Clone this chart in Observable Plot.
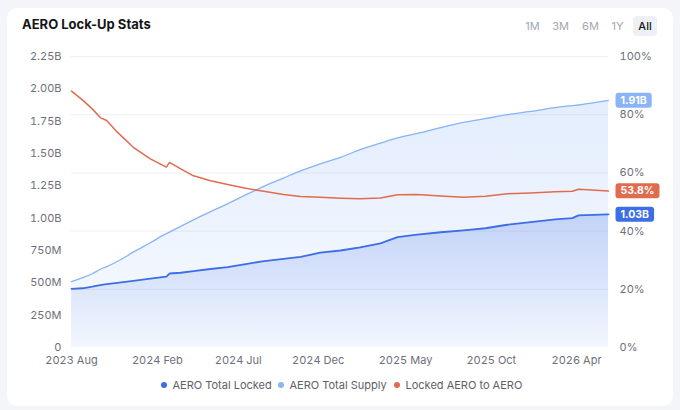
<!DOCTYPE html>
<html><head><meta charset="utf-8">
<script src="https://cdn.jsdelivr.net/npm/d3@7"></script>
<script src="https://cdn.jsdelivr.net/npm/@observablehq/plot@0.6"></script>
<style>
body{margin:0;background:#f3f5f9;font-family:Inter,"Noto Sans",sans-serif;}
#wrap{position:relative;width:680px;height:410px;overflow:hidden}
#card{position:absolute;left:7px;top:8px;width:666px;height:398px;background:#fff;border-radius:10px}
#title{position:absolute;left:22px;top:16px;font-size:13px;font-weight:700;color:#15161a;letter-spacing:0}
.btn{position:absolute;top:16px;height:20px;line-height:20px;font-size:11px;color:#a3a8b0;text-align:center;border-radius:4px}
.btn.on{background:#eef0f5;color:#15161a;font-weight:500}
#chart{position:absolute;left:0;top:0}
.leg{position:absolute;top:377px;font-size:11px;color:#5d6068;line-height:16px;white-space:nowrap}
.leg i{display:inline-block;width:6px;height:6px;border-radius:50%;margin-right:5.5px;vertical-align:1px}
</style></head>
<body>
<div id="wrap">
  <div id="card"></div>
  <div id="title">AERO Lock-Up Stats</div>
  <div class="btn" style="left:520px;width:25px">1M</div>
  <div class="btn" style="left:548px;width:25px">3M</div>
  <div class="btn" style="left:578px;width:25px">6M</div>
  <div class="btn" style="left:605px;width:25px">1Y</div>
  <div class="btn on" style="left:633px;width:24px">All</div>
  <div id="chart"></div>
  <div class="leg" style="left:161px"><i style="background:#3d6ee6"></i>AERO Total Locked</div>
  <div class="leg" style="left:278px"><i style="background:#8ab4f8"></i>AERO Total Supply</div>
  <div class="leg" style="left:394px"><i style="background:#e06b4e"></i>Locked AERO to AERO</div>
</div>
<script>
const dates = ["2023-08-28","2023-09-18","2023-10-06","2023-10-21","2023-11-02","2023-11-22","2023-12-22","2024-01-23","2024-02-22","2024-02-28","2024-03-20","2024-04-13","2024-05-15","2024-06-16","2024-07-20","2024-08-20","2024-09-29","2024-10-31","2024-12-07","2025-01-14","2025-02-20","2025-03-30","2025-05-01","2025-06-07","2025-07-21","2025-09-02","2025-10-13","2025-11-23","2026-01-06","2026-02-21","2026-03-25","2026-04-06","2026-06-01"];
// billions
const totalLocked = [0.454,0.458,0.470,0.483,0.490,0.500,0.515,0.532,0.548,0.572,0.578,0.590,0.607,0.621,0.645,0.666,0.685,0.700,0.733,0.750,0.775,0.805,0.853,0.873,0.891,0.905,0.922,0.949,0.969,0.990,1.000,1.022,1.030];
const totalSupply = [0.51,0.54,0.57,0.605,0.625,0.665,0.737,0.81,0.88,0.892,0.937,0.987,1.05,1.111,1.18,1.24,1.31,1.365,1.42,1.47,1.53,1.58,1.62,1.655,1.70,1.74,1.77,1.80,1.825,1.855,1.87,1.875,1.91];
// percent
const lockedRatio = [88.1,85.0,82.0,79.0,78.0,74.0,68.8,64.8,62.0,63.6,61.4,59.0,57.3,56.0,54.7,53.8,52.6,51.9,51.6,51.3,51.1,51.4,52.5,52.6,52.1,51.6,52.0,52.8,53.1,53.5,53.7,54.4,53.8];
const leftTicks = [0,0.25,0.5,0.75,1,1.25,1.5,1.75,2,2.25];
const pctTicks = [0,20,40,60,80,100];
const xTickDates = ["2023-08-28","2024-02-05","2024-07-06","2024-12-03","2025-05-16","2025-10-24","2026-04-02"];

const C_LOCK="#3d6ee6", C_SUP="#8ab4f8", C_RAT="#e06b4e";
const YMAX = 2.25e9;
const pct = p => p/100*YMAX;
const rows = dates.map((d,i)=>({date:new Date(d), locked:totalLocked[i]*1e9, supply:totalSupply[i]*1e9, ratio:lockedRatio[i]}));
const last = rows[rows.length-1];
const fmtB = v => v===0 ? "0" : v<1e9 ? Math.round(v/1e6)+"M" : (v/1e9).toFixed(2)+"B";

const svg = Plot.plot({
  width:680, height:380,
  marginLeft:71, marginRight:72, marginTop:56, marginBottom:33,
  style:{background:"transparent", fontFamily:"Inter, sans-serif", fontSize:"11px", color:"#6e7079", overflow:"visible"},
  x:{type:"utc", domain:[rows[0].date, last.date], label:null},
  y:{domain:[0,YMAX], label:null},
  marks:[
    Plot.gridY(pctTicks.slice(1).map(pct), {stroke:"#eceef2", strokeOpacity:1}),
    Plot.areaY(rows,{x:"date", y:"supply", fill:"url(#gSup)", curve:"monotone-x"}),
    Plot.areaY(rows,{x:"date", y:"locked", fill:"url(#gLock)"}),
    Plot.lineY(rows,{x:"date", y:"supply", stroke:C_SUP, strokeWidth:1.3, curve:"monotone-x"}),
    Plot.lineY(rows,{x:"date", y:"locked", stroke:C_LOCK, strokeWidth:1.8}),
    Plot.lineY(rows,{x:"date", y:d=>pct(d.ratio), stroke:C_RAT, strokeWidth:1.5}),
    Plot.axisY(leftTicks.map(v=>v*1e9), {anchor:"left", tickSize:0, tickPadding:10, tickFormat:fmtB, label:null, fill:"#6e7079"}),
    Plot.axisY(pctTicks.map(pct), {anchor:"right", tickSize:0, tickPadding:11, tickFormat:v=>Math.round(v/YMAX*100)+"%", label:null, fill:"#6e7079"}),
    Plot.axisX(xTickDates.map(d=>new Date(d)), {tickSize:0, tickPadding:9, tickFormat:d3.utcFormat("%Y %b"), label:null, fill:"#6e7079"}),
    Plot.text([last], {x:"date", y:"supply", text:d=>fmtB(d.supply), dx:12, textAnchor:"start", fill:"#fff", fontWeight:700, fontSize:10.5, ariaDescription:"badge-sup"}),
    Plot.text([last], {x:"date", y:d=>pct(d.ratio), text:d=>d.ratio.toFixed(1)+"%", dx:12, textAnchor:"start", fill:"#fff", fontWeight:700, fontSize:10.5, ariaDescription:"badge-rat"}),
    Plot.text([last], {x:"date", y:"locked", text:d=>fmtB(d.locked), dx:12, textAnchor:"start", fill:"#fff", fontWeight:700, fontSize:10.5, ariaDescription:"badge-lock"})
  ]
});
document.getElementById("chart").appendChild(svg);
const s = d3.select(svg);
const defs = s.insert("defs", ":first-child");
function grad(id, color, o1, o2){
  const g = defs.append("linearGradient").attr("id",id).attr("x1",0).attr("y1",0).attr("x2",0).attr("y2",1);
  g.append("stop").attr("offset","0%").attr("stop-color",color).attr("stop-opacity",o1);
  g.append("stop").attr("offset","100%").attr("stop-color",color).attr("stop-opacity",o2);
}
grad("gSup", C_SUP, 0.24, 0.06);
grad("gLock", C_LOCK, 0.24, 0.03);
[["badge-sup",C_SUP],["badge-rat",C_RAT],["badge-lock",C_LOCK]].forEach(([lab,col])=>{
  s.selectAll(`g[aria-description="${lab}"] text`).each(function(){
    const bb = this.getBBox();
    const tr = this.getAttribute("transform");
    const r = document.createElementNS("http://www.w3.org/2000/svg","rect");
    r.setAttribute("x", bb.x-5); r.setAttribute("y", bb.y+bb.height/2-7.5);
    r.setAttribute("width", bb.width+10); r.setAttribute("height", 15);
    r.setAttribute("rx", 3); r.setAttribute("fill", col);
    if (tr) r.setAttribute("transform", tr);
    this.parentNode.insertBefore(r, this);
  });
});
</script>
</body></html>
